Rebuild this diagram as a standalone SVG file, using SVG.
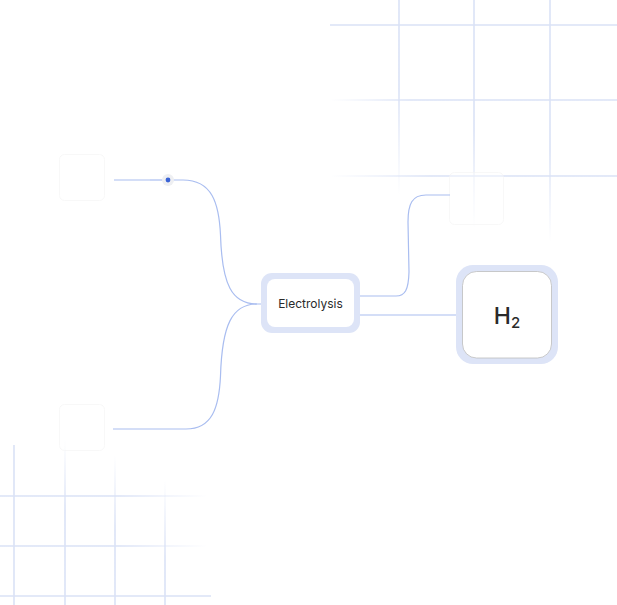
<svg xmlns="http://www.w3.org/2000/svg" width="617" height="605" viewBox="0 0 617 605">
<style>
.grid{fill:none;stroke-width:1.6}
.conn{fill:none;stroke:#a9bdf0;stroke-width:1.2}
.ghost{fill:#ffffff;fill-opacity:0.4;stroke:#f4f4f4;stroke-opacity:0.6;stroke-width:1}
.lbl{font-family:Inter,"Liberation Sans",sans-serif;fill:#2a2a2a}
</style>
<defs>
<linearGradient id="gh100" gradientUnits="userSpaceOnUse" x1="330" y1="0" x2="410" y2="0"><stop offset="0" stop-color="#dae2f6" stop-opacity="0"/><stop offset="1" stop-color="#dae2f6"/></linearGradient>
<linearGradient id="gh176" gradientUnits="userSpaceOnUse" x1="330" y1="0" x2="430" y2="0"><stop offset="0" stop-color="#dae2f6" stop-opacity="0"/><stop offset="1" stop-color="#dae2f6"/></linearGradient>
<linearGradient id="gv399" gradientUnits="userSpaceOnUse" x1="0" y1="90" x2="0" y2="195"><stop offset="0" stop-color="#dae2f6"/><stop offset="1" stop-color="#dae2f6" stop-opacity="0"/></linearGradient>
<linearGradient id="gv474" gradientUnits="userSpaceOnUse" x1="0" y1="130" x2="0" y2="228"><stop offset="0" stop-color="#dae2f6"/><stop offset="1" stop-color="#dae2f6" stop-opacity="0"/></linearGradient>
<linearGradient id="gv550" gradientUnits="userSpaceOnUse" x1="0" y1="150" x2="0" y2="242"><stop offset="0" stop-color="#dae2f6"/><stop offset="1" stop-color="#dae2f6" stop-opacity="0"/></linearGradient>
<linearGradient id="gv65" gradientUnits="userSpaceOnUse" x1="0" y1="440" x2="0" y2="510"><stop offset="0" stop-color="#dae2f6" stop-opacity="0"/><stop offset="1" stop-color="#dae2f6"/></linearGradient>
<linearGradient id="gv115" gradientUnits="userSpaceOnUse" x1="0" y1="455" x2="0" y2="530"><stop offset="0" stop-color="#dae2f6" stop-opacity="0"/><stop offset="1" stop-color="#dae2f6"/></linearGradient>
<linearGradient id="gv165" gradientUnits="userSpaceOnUse" x1="0" y1="480" x2="0" y2="560"><stop offset="0" stop-color="#dae2f6" stop-opacity="0"/><stop offset="1" stop-color="#dae2f6"/></linearGradient>
<linearGradient id="ghb" gradientUnits="userSpaceOnUse" x1="120" y1="0" x2="207" y2="0"><stop offset="0" stop-color="#dae2f6"/><stop offset="1" stop-color="#dae2f6" stop-opacity="0"/></linearGradient>
</defs>
<rect width="617" height="605" fill="#ffffff"/>

<g id="grid-top-right">
<line class="grid" x1="330" y1="25" x2="617" y2="25" stroke="#dae2f6"/>
<line class="grid" x1="330" y1="100" x2="617" y2="100" stroke="url(#gh100)"/>
<line class="grid" x1="330" y1="176" x2="617" y2="176" stroke="url(#gh176)"/>
<line class="grid" x1="399" y1="0" x2="399" y2="200" stroke="url(#gv399)"/>
<line class="grid" x1="474" y1="0" x2="474" y2="230" stroke="url(#gv474)"/>
<line class="grid" x1="550" y1="0" x2="550" y2="245" stroke="url(#gv550)"/>
</g>
<g id="grid-bottom-left">
<line class="grid" x1="14" y1="445" x2="14" y2="605" stroke="#dae2f6"/>
<line class="grid" x1="65" y1="440" x2="65" y2="605" stroke="url(#gv65)"/>
<line class="grid" x1="115" y1="455" x2="115" y2="605" stroke="url(#gv115)"/>
<line class="grid" x1="165" y1="480" x2="165" y2="605" stroke="url(#gv165)"/>
<line class="grid" x1="0" y1="496" x2="207" y2="496" stroke="url(#ghb)"/>
<line class="grid" x1="0" y1="546" x2="207" y2="546" stroke="url(#ghb)"/>
<line class="grid" x1="0" y1="596" x2="211" y2="596" stroke="#dae2f6"/>
</g>

<g id="ghost-left-top"><rect class="ghost" x="59.5" y="154.5" width="45" height="46" rx="5"/></g>
<g id="ghost-left-bottom"><rect class="ghost" x="59.5" y="404.5" width="45" height="46" rx="5"/></g>
<g id="ghost-right-top"><rect class="ghost" x="449.5" y="172.5" width="54" height="52" rx="5"/></g>

<g id="connectors">
<path class="conn" d="M114 180 H150" stroke-width="1.6" stroke="#bccbf2"/>
<path class="conn" d="M150 180 H168" stroke="#dde5f8" stroke-width="1.6"/>
<path class="conn" d="M168 180 H183 C212 180 219 203 220.5 235 C222 285 232 304 257 304 H262"/>
<path class="conn" d="M113 429 H186 C212 429 219 408 220.5 376 C222 325 232 304 257 304"/>
<path class="conn" d="M360 296 H396 C405 296 408.5 290 409 272 L408 222 C408 204 412 195 426 195 H450"/>
<path class="conn" d="M360 315 H457" stroke="#c3cff1" stroke-width="1.5"/>
</g>

<g id="dot">
<circle cx="168" cy="180" r="6" fill="#eeeff2"/>
<circle cx="168" cy="180" r="2.4" fill="#3a63d6"/>
</g>

<g id="node-electrolysis">
<rect x="261" y="273" width="99" height="60" rx="11" fill="#dde4f7"/>
<rect x="267" y="279" width="87" height="48" rx="8" fill="#ffffff"/>
<text class="lbl" x="310.5" y="307.5" font-size="12" text-anchor="middle">Electrolysis</text>
</g>

<g id="node-h2">
<rect x="456" y="265" width="102" height="99" rx="17" fill="#dde4f7"/>
<rect x="462.5" y="271.5" width="89" height="86.5" rx="14" fill="#ffffff" stroke="#bdbdbd" stroke-width="0.8"/>
<text class="lbl" x="507" y="323.5" font-size="23" font-weight="500" text-anchor="middle" fill="#111">H<tspan font-size="15" dy="4">2</tspan></text>
</g>
</svg>
